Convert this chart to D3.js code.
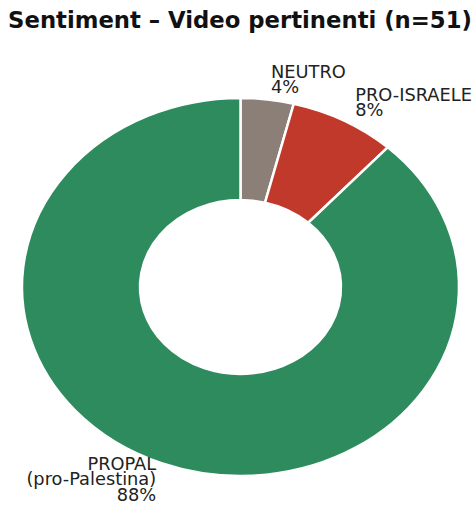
<!DOCTYPE html>
<html>
<head>
<meta charset="utf-8">
<script src="https://cdn.jsdelivr.net/npm/d3@7"></script>
<style>
  body { margin: 0; background: #fff; }
  text { font-family: 'DejaVu Sans', sans-serif; }
</style>
</head>
<body>
<div id="chart"></div>
<script>
// Data
var categories = ['NEUTRO', 'PRO-ISRAELE', 'PROPAL']
var labelLines = [['NEUTRO'], ['PRO-ISRAELE'], ['PROPAL', '(pro-Palestina)']]
var counts = [2, 4, 45]
var percents = ['4%', '8%', '88%']
var colors = ['#8b7f77', '#c0392b', '#2e8b5e']
var title = 'Sentiment \u2013 Video pertinenti (n=51)'

// Dimensions
var width = 476
var height = 505
var cx = 240.5
var cy = 287
var outerR = 218.5
var innerR = 100.5
var squash = 0.865   // the reference donut is an ellipse
var lineH = 15.3

var svg = d3.select('#chart').append('svg')
  .attr('width', width)
  .attr('height', height)

// Title
var titleText = svg.append('text')
  .attr('x', 240)
  .attr('y', 27.5)
  .attr('text-anchor', 'middle')
  .attr('font-weight', 'bold')
  .attr('font-size', 20)
  .attr('fill', '#111')
  .text(title)
var tw = titleText.node().getComputedTextLength()
titleText.attr('font-size', 20 * 464 / tw)

var pie = d3.pie().sort(null).value(function (d) { return d })
var arcs = pie(counts)

var arc = d3.arc()
  .innerRadius(innerR)
  .outerRadius(outerR)

var gPie = svg.append('g')
  .attr('transform', 'translate(' + cx + ',' + cy + ') scale(1,' + squash + ')')

gPie.selectAll('.slice')
  .data(arcs)
  .enter().append('path')
  .attr('class', 'slice')
  .attr('d', arc)
  .attr('fill', function (d, i) { return colors[i] })
  .attr('stroke', '#fff')
  .attr('stroke-width', 2.5)
  .attr('vector-effect', 'non-scaling-stroke')

// Labels
var labelR = outerR * 1.1
arcs.forEach(function (d, i) {
  var a = (d.startAngle + d.endAngle) / 2
  var x = cx + Math.sin(a) * labelR
  var y = cy - Math.cos(a) * labelR * squash
  var right = x > cx
  var lines = labelLines[i].concat([percents[i]])
  var y0 = y - (lines.length - 1) * lineH / 2 + 4.5
  var t = svg.append('text')
    .attr('text-anchor', right ? 'start' : 'end')
    .attr('font-size', 17.8)
    .attr('fill', '#222')
  lines.forEach(function (s, k) {
    t.append('tspan')
      .attr('x', right ? x + 1 : x + 2.5)
      .attr('y', y0 + k * lineH)
      .text(s)
  })
})
</script>
</body>
</html>
